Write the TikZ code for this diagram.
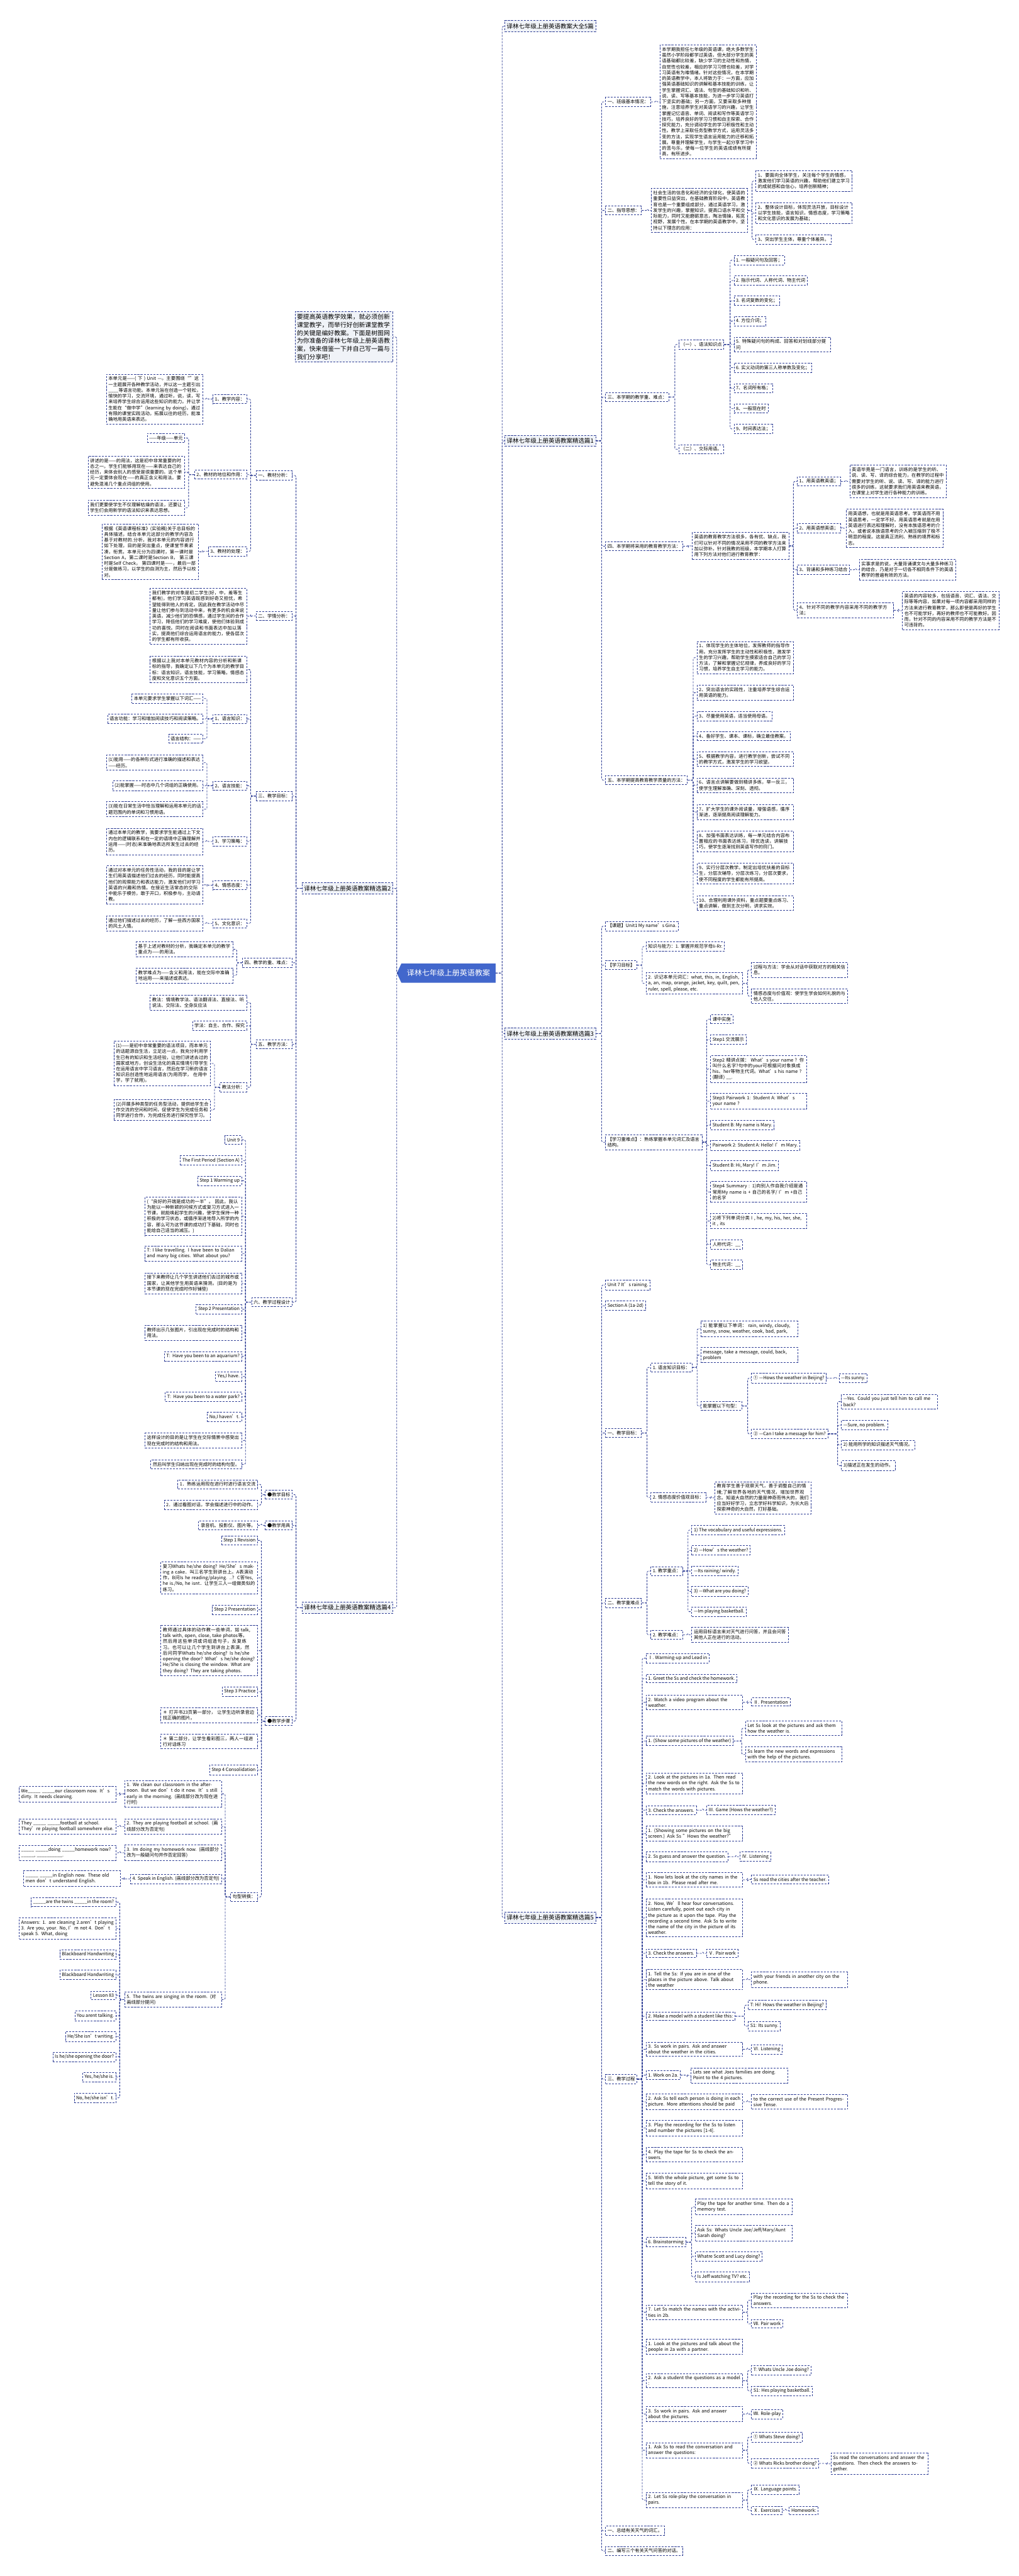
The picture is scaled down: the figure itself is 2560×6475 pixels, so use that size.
\documentclass[tikz,border=0pt]{standalone}
\usepackage{fontspec}
\setmainfont{Noto Sans CJK SC}
\usetikzlibrary{shapes.symbols}
\XeTeXlinebreaklocale "zh"
\XeTeXlinebreakskip = 0pt plus 1pt
\definecolor{lc}{RGB}{48,63,150}
\definecolor{rootc}{RGB}{66,103,204}
\definecolor{lf}{RGB}{240,243,248}
\newcommand\fs{\fontsize{11.5}{14.6}\selectfont}
\newcommand\blnk{\_\_\_\_\_}
\tikzset{
 bx/.style={draw=lc, dash pattern=on 5pt off 3pt, line width=1.3pt, fill=white, inner xsep=5pt, inner ysep=6pt, font=\fs, align=left},
 lv/.style={bx, fill=lf, font=\fontsize{15}{18}\selectfont, inner ysep=7pt},
 intro/.style={bx, fill=lf, font=\fontsize{15.5}{20}\selectfont},
 con/.style={draw=lc, dash pattern=on 5pt off 3pt, line width=1.3pt, rounded corners=3pt},
 rootnode/.style={shape=signal, signal to=west, signal from=nowhere, signal pointer angle=130, fill=rootc, text=white, font=\fontsize{19}{22}\selectfont, minimum height=48pt, inner xsep=10pt},
}
\newcommand\NW[4]{\node[bx,anchor=west] (#1) at (#2,#3) {#4};}
\newcommand\NWt[5]{\node[bx,anchor=west,text width=#4pt] (#1) at (#2,#3) {#5};}
\newcommand\NE[4]{\node[bx,anchor=east] (#1) at (#2,#3) {#4};}
\newcommand\NEt[5]{\node[bx,anchor=east,text width=#4pt] (#1) at (#2,#3) {#5};}
\newcommand\CR[2]{\foreach \kid in {#2}{\draw[con] (#1.east) -| ([xshift=-9pt]\kid.west) -- (\kid.west);}}
\newcommand\CL[2]{\foreach \kid in {#2}{\draw[con] (#1.west) -| ([xshift=9pt]\kid.east) -- (\kid.east);}}
\begin{document}
\begin{tikzpicture}[x=1pt,y=-1pt]
\useasboundingbox (0,0) rectangle (2560,6475);
\fill[white] (0,0) rectangle (2560,6475);

% ---------- root ----------
\node[rootnode, minimum width=248pt] (root) at (1127,2446) {译林七年级上册英语教案};

% ---------- first level ----------
\node[lv,anchor=west] (b0) at (1268,66) {译林七年级上册英语教案大全5篇};
\node[lv,anchor=west] (b1) at (1268,1108) {译林七年级上册英语教案精选篇1};
\node[lv,anchor=west] (b3) at (1268,2598) {译林七年级上册英语教案精选篇3};
\node[lv,anchor=west] (b5) at (1268,4820) {译林七年级上册英语教案精选篇5};
\node[intro,anchor=east,text width=236pt] (intro) at (988,847) {要提高英语教学效果，就必须创新课堂教学，而举行好创新课堂教学的关键是编好教案。下面是树图网为你准备的译林七年级上册英语教案，快来借鉴一下并自己写一篇与我们分享吧！};
\node[lv,anchor=east] (b2) at (988,2233) {译林七年级上册英语教案精选篇2};
\node[lv,anchor=east] (b4) at (988,4041) {译林七年级上册英语教案精选篇4};
\foreach \kid in {b0,b1,b3,b5}{\draw[con] (root.east) -| ([xshift=-6pt]\kid.west) -- (\kid.west);}
\foreach \kid in {intro,b2,b4}{\draw[con] (root.west) -| ([xshift=9pt]\kid.east) -- (\kid.east);}

% ---------- 篇1 ----------
\NW{a1}{1521}{256}{一、班级基本情况：}
\NWt{a1p}{1658}{256}{232}{本学期我担任七年级的英语课，绝大多数学生虽然小学阶段都学过英语，但大部分学生的英语基础都比较差，缺少学习的主动性和热情，自觉性也较差，相应的学习习惯也较差，对学习英语有为难情绪。针对这些情况，在本学期的英语教学中，本人将致力于：一方面，应加强英语基础知识的讲解和基本技能的训练，让学生掌握词汇、语法、句型的基础知识和听、说、读、写等基本技能，为进一步学习英语打下坚实的基础；另一方面，又要采取多种措施，注意培养学生对英语学习的兴趣，让学生掌握记忆语音、单词、阅读和写作等英语学习技巧，培养良好的学习习惯和自主探索、合作探究能力，充分调动学生的学习积极性和主动性。教学上采取任务型教学方式，运用灵活多变的方法，实现学生语言运用能力的迁移和拓展。尊重并理解学生，与学生一起分享学习中的苦与乐，使每一位学生的英语成绩有所提高，有所进步。}
\CR{a1}{a1p}
\NW{a2}{1521}{529}{二、指导思想：}
\NWt{a2p}{1636}{529}{232}{社会生活的信息化和经济的全球化，使英语的重要性日益突出，在基础教育阶段中，英语教育也是一个重要组成部分，通过英语学习，激发学生的兴趣，掌握知识，提高口语水平和交际能力，同时又能磨砺意志，陶冶情操，拓宽视野，发展个性。在本学期的英语教学中，坚持以下理念的应用：}
\CR{a2}{a2p}
\NWt{a2a}{1899}{455}{232}{1、要面向全体学生，关注每个学生的情感，激发他们学习英语的兴趣，帮助他们建立学习的成就感和自信心，培养创新精神；}
\NWt{a2b}{1899}{536}{232}{2、整体设计目标，体现灵活开放，目标设计以学生技能，语言知识，情感态度，学习策略和文化意识的发展为基础；}
\NW{a2c}{1899}{602}{3、突出学生主体，尊重个体差异。}
\CR{a2p}{a2a,a2b,a2c}
\NW{a3}{1521}{998}{三、本学期的教学重、难点：}
\NW{a3a}{1705}{866}{（一）、语法知识点}
\NW{a3b}{1705}{1129}{（二）、交际用语。}
\CR{a3}{a3a,a3b}
\NW{g1}{1844}{654}{1. 一般疑问句及回答；}
\NW{g2}{1844}{705}{2. 指示代词、人称代词、物主代词}
\NW{g3}{1844}{756}{3. 名词复数的变化；}
\NW{g4}{1844}{807}{4. 方位介词；}
\NWt{g5}{1844}{866}{232}{5. 特殊疑问句的构成、回答和对划线部分提问}
\NW{g6}{1844}{924}{6. 实义动词的第三人称单数及变化；}
\NW{g7}{1844}{976}{7、名词所有格；}
\NW{g8}{1844}{1027}{8、一般现在时}
\NW{g9}{1844}{1078}{9、时间表达法；}
\CR{a3a}{g1,g2,g3,g4,g5,g6,g7,g8,g9}
\NW{a4}{1521}{1373}{四、本学期将采用的教育教学方法：}
\NWt{a4p}{1739}{1372}{233}{英语的教育教学方法很多，各有优、缺点，我们可以针对不同的情况采用不同的教学方法来加以弥补。针对我教的班级，本学期本人打算用下列方法对他们进行教育教学：}
\CR{a4}{a4p}
\NW{m1}{2003}{1210}{1、用英语教英语；}
\NWt{m1p}{2135}{1210}{233}{英语毕竟是一门语言，训练的是学生的听、说、读、写、译的综合能力，在教学的过程中需要对学生的听、说、读、写、译的能力进行很多的训练，这就要求我们用英语来教英语，在课堂上对学生进行各种能力的训练。}
\NW{m2}{2003}{1328}{2、用英语想英语；}
\NWt{m2p}{2126}{1328}{233}{用英语想，也就是用英语思考。学英语而不用英语思考，一定学不好。用英语思考就是在用英语进行表达和理解时，没有本族语思考的介入，或者说本族语思考的介入被压缩到了极不明显的程度。这是真正流利、熟练的境界和标志。}
\NW{m3}{2003}{1432}{3、背诵和多种练习结合}
\NWt{m3p}{2159}{1432}{233}{实事求是的说，大量背诵课文与大量多种练习的结合，乃是对于一切各不相同条件下的英语教学的普遍有效的方法。}
\NWt{m4}{2003}{1534}{232}{4、针对不同的教学内容采用不同的教学方法；}
\NWt{m4p}{2267}{1535}{233}{英语的内容较多，包括语音、词汇、语法、交际等等内容，如果对每一项内容都采用同样的方法来进行教育教学，那么即使是再好的学生也不可能学好，再好的教师也不可能教好。因而，针对不同的内容采用不同的教学方法是不可违背的。}
\CR{a4p}{m1,m2,m3,m4}
\CR{m1}{m1p}\CR{m2}{m2p}\CR{m3}{m3p}\CR{m4}{m4p}
\NW{a5}{1521}{1961}{五、本学期提高教育教学质量的方法：}
\NWt{q1}{1751}{1653}{232}{1、体现学生的主体地位，发挥教师的指导作用。充分发挥学生的主动性和积极性，激发学生的学习兴趣，帮助学生摸索适合自己的学习方法，了解和掌握记忆规律，养成良好的学习习惯，培养学生自主学习的能力。}
\NWt{q2}{1751}{1741}{232}{2、突出语言的实践性，注重培养学生综合运用英语的能力。}
\NW{q3}{1751}{1800}{3、尽量使用英语，适当使用母语。}
\NW{q4}{1751}{1850}{4、备好学生、课本、课标，确立最佳教案。}
\NWt{q5}{1751}{1908}{232}{5、根据教学内容，进行教学创新，尝试不同的教学方式，激发学生的学习欲望。}
\NWt{q6}{1751}{1974}{232}{6、语言点讲解要做到精讲多练，举一反三，使学生理解准确、深刻、透彻。}
\NWt{q7}{1751}{2041}{232}{7、扩大学生的课外阅读量，增强语感，循序渐进，逐渐提高阅读理解能力。}
\NWt{q8}{1751}{2115}{232}{8、加强书面表达训练，每一单元结合内容布置相应的书面表达练习，择优选读，讲解技巧，使学生逐渐找到英语写作的窍门。}
\NWt{q9}{1751}{2196}{232}{9、实行分层次教学。制定出培优扶差的目标生，分层次辅导，分层次练习，分层次要求，使不同程度的学生都能有所提高。}
\NWt{q10}{1751}{2270}{232}{10、合理利用课外资料，重点题要重点练习、重点讲解，做到主次分明，讲求实效。}
\CR{a5}{q1,q2,q3,q4,q5,q6,q7,q8,q9,q10}
\CR{b1}{a1,a2,a3,a4,a5}

% ---------- 篇3 ----------
\NW{c1}{1521}{2328}{【课题】Unit1 My name’s Gina.}
\NW{c2}{1521}{2426}{【学习目标】}
\NW{c2a}{1623}{2379}{知识与能力：1. 掌握并规范字母Ii-Rr.}
\NWt{c2b}{1623}{2472}{233}{2. 识记本单元词汇：what, this, in, English, a, an, map, orange, jacket, key, quilt, pen, ruler, spell, please, etc.}
\NWt{c2b1}{1888}{2438}{232}{过程与方法：学会从对话中获取对方的相关信息。}
\NWt{c2b2}{1888}{2504}{232}{情感态度与价值观：使学生学会如何礼貌的与他人交往。}
\NWt{c3}{1521}{2871}{233}{【学习重难点】：熟练掌握本单元词汇及语言结构。}
\NW{s1}{1785}{2562}{课中实施}
\NW{s2}{1785}{2613}{Step1 交流展示}
\NWt{s3}{1785}{2687}{232}{Step2 精讲点拨： What’s your name ? 你叫什么名字?句中的your可根据问对象换成his、her等物主代词。What’s his name ? (翻译) \_\_.}
\NWt{s4}{1785}{2768}{232}{Step3 Pairwork 1: Student A: What’s your name ?}
\NW{s5}{1785}{2828}{Student B: My name is Mary.}
\NW{s6}{1785}{2879}{Pairwork 2: Student A: Hello! I’m Mary.}
\NW{s7}{1785}{2930}{Student B: Hi, Mary! I’m Jim.}
\NWt{s8}{1785}{2996}{232}{Step4 Summary : 1)向别人作自我介绍是通常用My name is + 自己的名字/ I’m +自己的名字}
\NWt{s9}{1785}{3069}{232}{2)将下列单词分类 I , he, my, his, her, she, it , its}
\NW{s10}{1785}{3128}{人称代词：\_\_}
\NW{s11}{1785}{3179}{物主代词：\_\_}
\CR{b3}{c1,c2,c3}
\CR{c2}{c2a,c2b}
\CR{c2b}{c2b1,c2b2}
\CR{c3}{s1,s2,s3,s4,s5,s6,s7,s8,s9,s10,s11}

% ---------- 篇5 ----------
\NW{d1}{1521}{3230}{Unit 7 It’s raining.}
\NW{d2}{1521}{3282}{Section A (1a-2d)}
\NW{d3}{1521}{3602}{一、教学目标：}
\NW{d3a}{1635}{3437}{1. 语言知识目标：}
\NWt{d3a1}{1761}{3340}{233}{1) 能掌握以下单词： rain, windy, cloudy, sunny, snow, weather, cook, bad, park,}
\NWt{d3a2}{1761}{3406}{233}{message, take a message, could, back, problem}
\NW{d3a3}{1761}{3534}{能掌握以下句型：}
\NW{e1}{1888}{3464}{① —Hows the weather in Beijing?}
\NW{e1a}{2108}{3464}{—Its sunny.}
\NW{e2}{1888}{3604}{② —Can I take a message for him?}
\NWt{e2a}{2114}{3523}{232}{—Yes. Could you just tell him to call me back?}
\NW{e2b}{2114}{3582}{—Sure, no problem.}
\NW{e2c}{2114}{3632}{2) 能用所学的知识描述天气情况。}
\NW{e2d}{2114}{3684}{3)描述正在发生的动作。}
\NW{d3b}{1635}{3764}{2. 情感态度价值观目标：}
\NWt{d3bp}{1796}{3765}{232}{教育学生善于观察天气，善于调整自己的情绪;了解世界各地的天气情况，增加世界观念。知道大自然的力量是神奇而伟大的，我们应当好好学习，立志学好科学知识，为长大后探索神奇的大自然，打好基础。}
\CR{d3}{d3a,d3b}
\CR{d3a}{d3a1,d3a2,d3a3}
\CR{d3a3}{e1,e2}
\CR{e1}{e1a}
\CR{e2}{e2a,e2b,e2c,e2d}
\CR{d3b}{d3bp}
\NW{d4}{1521}{4029}{二、教学重难点}
\NW{d4a}{1635}{3949}{1. 教学重点：}
\NW{r1}{1738}{3846}{1) The vocabulary and useful expressions.}
\NW{r2}{1738}{3897}{2) —How’s the weather?}
\NW{r3}{1738}{3949}{—Its raining/ windy.}
\NW{r4}{1738}{4000}{3) —What are you doing?}
\NW{r5}{1738}{4051}{—Im playing basketball.}
\NW{d4b}{1635}{4109}{2. 教学难点：}
\NWt{d4bp}{1738}{4109}{233}{运用目标语言来对天气进行问答，并且会问答其他人正在进行的活动。}
\CR{d4}{d4a,d4b}
\CR{d4a}{r1,r2,r3,r4,r5}
\CR{d4b}{d4bp}
\NW{d5}{1521}{5226}{三、教学过程}
\NW{p1}{1623}{4168}{Ⅰ. Warming-up and Lead in}
\NW{p2}{1623}{4219}{1. Greet the Ss and check the homework.}
\NWt{p3}{1623}{4279}{233}{2. Watch a video program about the weather.}
\NW{p3a}{1888}{4278}{Ⅱ. Presentation}
\NW{p4}{1623}{4376}{1. (Show some pictures of the weather)}
\NWt{p4a}{1873}{4344}{232}{Let Ss look at the pictures and ask them how the weather is.}
\NWt{p4b}{1873}{4410}{232}{Ss learn the new words and expressions with the help of the pictures.}
\NWt{p5}{1623}{4483}{233}{2. Look at the pictures in 1a. Then read the new words on the right. Ask the Ss to match the words with pictures.}
\NW{p6}{1623}{4550}{3. Check the answers.}
\NW{p6a}{1775}{4550}{Ⅲ. Game (Hows the weather?)}
\NWt{p7}{1623}{4609}{233}{1. (Showing some pictures on the big screen.) Ask Ss "Hows the weather?"}
\NW{p8}{1623}{4667}{2. Ss guess and answer the question.}
\NW{p8a}{1859}{4667}{Ⅳ. Listening}
\NWt{p9}{1623}{4725}{233}{1. Now lets look at the city names in the box in 1b. Please read after me.}
\NW{p9a}{1888}{4724}{Ss read the cities after the teacher.}
\NWt{p10}{1623}{4821}{233}{2. Now, We’ll hear four conversations. Listen carefully, point out each city in the picture as it upon the tape. Play the recording a second time. Ask Ss to write the name of the city in the picture of its weather.}
\NW{p11}{1623}{4910}{3. Check the answers.}
\NW{p11a}{1775}{4910}{Ⅴ. Pair work}
\NWt{p12}{1623}{4976}{233}{1. Tell the Ss: If you are in one of the places in the picture above. Talk about the weather}
\NWt{p12a}{1888}{4976}{232}{with your friends in another city on the phone.}
\NW{p13}{1623}{5068}{2. Make a model with a student like this:}
\NW{p13a}{1880}{5040}{T: Hi! Hows the weather in Beijing?}
\NW{p13b}{1880}{5093}{S1: Its sunny.}
\NWt{p14}{1623}{5151}{233}{3. Ss work in pairs. Ask and answer about the weather in the cities.}
\NW{p14a}{1888}{5151}{Ⅵ. Listening}
\NW{p15}{1623}{5216}{1. Work on 2a.}
\NWt{p15a}{1736}{5217}{233}{Lets see what Joes families are doing. Point to the 4 pictures.}
\NWt{p16}{1623}{5283}{233}{2. Ask Ss tell each person is doing in each picture. More attentions should be paid}
\NWt{p16a}{1888}{5283}{232}{to the correct use of the Present Progressive Tense.}
\NWt{p17}{1623}{5349}{233}{3. Play the recording for the Ss to listen and number the pictures [1-4].}
\NWt{p18}{1623}{5416}{233}{4. Play the tape for Ss to check the answers.}
\NWt{p19}{1623}{5482}{233}{5. With the whole picture, get some Ss to tell the story of it.}
\NW{p20}{1623}{5636}{6. Brainstorming}
\NWt{p20a}{1747}{5547}{233}{Play the tape for another time. Then do a memory test.}
\NWt{p20b}{1747}{5613}{233}{Ask Ss: Whats Uncle Joe/Jeff/Mary/Aunt Sarah doing?}
\NW{p20c}{1747}{5672}{Whatre Scott and Lucy doing?}
\NW{p20d}{1747}{5723}{Is Jeff watching TV? etc.}
\NWt{p21}{1623}{5812}{233}{7. Let Ss match the names with the activities in 2b.}
\NWt{p21a}{1888}{5782}{232}{Play the recording for the Ss to check the answers.}
\NW{p21b}{1888}{5841}{Ⅶ. Pair work}
\NWt{p22}{1623}{5899}{233}{1. Look at the pictures and talk about the people in 2a with a partner.}
\NWt{p23}{1623}{5984}{233}{2. Ask a student the questions as a model :}
\NW{p23a}{1888}{5958}{T: Whats Uncle Joe doing?}
\NW{p23b}{1888}{6010}{S1: Hes playing basketball.}
\NWt{p24}{1623}{6068}{233}{3. Ss work in pairs. Ask and answer about the pictures.}
\NW{p24a}{1888}{6068}{Ⅷ. Role-play}
\NWt{p25}{1623}{6159}{233}{1. Ask Ss to read the conversation and answer the questions:}
\NW{p25a}{1888}{6126}{① Whats Steve doing?}
\NW{p25b}{1888}{6192}{② Whats Ricks brother doing?}
\NWt{p25c}{2088}{6193}{233}{Ss read the conversations and answer the questions. Then check the answers together.}
\NWt{p26}{1623}{6284}{233}{2. Let Ss role-play the conversation in pairs.}
\NW{p26a}{1888}{6258}{Ⅸ. Language points.}
\NW{p26b}{1888}{6310}{Ⅹ. Exercises}
\NW{p26c}{1983}{6310}{Homework:}
\NW{d6}{1521}{6361}{一、总结有关天气的词汇。}
\NW{d7}{1521}{6412}{二、编写三个有关天气问答的对话。}
\CR{b5}{d1,d2,d3,d4,d5,d6,d7}
\CR{d5}{p1,p2,p3,p4,p5,p6,p7,p8,p9,p10,p11,p12,p13,p14,p15,p16,p17,p18,p19,p20,p21,p22,p23,p24,p25,p26}
\CR{p3}{p3a}\CR{p4}{p4a,p4b}\CR{p6}{p6a}\CR{p8}{p8a}\CR{p9}{p9a}\CR{p11}{p11a}
\CR{p12}{p12a}\CR{p13}{p13a,p13b}\CR{p14}{p14a}\CR{p15}{p15a}\CR{p16}{p16a}
\CR{p20}{p20a,p20b,p20c,p20d}\CR{p21}{p21a,p21b}\CR{p23}{p23a,p23b}\CR{p24}{p24a}
\CR{p25}{p25a,p25b}\CR{p25b}{p25c}\CR{p26}{p26a,p26b}\CR{p26b}{p26c}

% ---------- 篇2 ----------
\NE{k1}{735}{1195}{一、教材分析：}
\NE{k1a}{621}{1003}{1、教学内容：}
\NEt{k1ap}{511}{1003}{233}{本单元是——( 下 ) Unit —。主要围绕“”这一主题展开各种教学活动，并以这一主题引出\_\_\_\_等语言功能。本单元旨在创造一个轻松，愉快的学习，交流环境，通过听，说，读，写来培养学生综合运用这些知识的能力。并让学生能在“做中学”(learning by doing)，通过有限的课堂实践活动，拓展以往的经历，能准确地用英语来表达。}
\NE{k1b}{621}{1193}{2、教材的地位和作用：}
\NE{k1b1}{465}{1101}{——年级——单元}
\NEt{k1b2}{465}{1187}{233}{讲述的是——的用法，这是初中非常重要的时态之一。学生们能够用现在——来表达自己的经历，来体会别人的感受是很重要的。这个单元一定要体会现在——的真正含义和用法。要避免混淆几个重点词组的使用。}
\NEt{k1b3}{465}{1276}{233}{我们更要使学生不仅理解枯燥的语法，还要让学生们会用新学的语法知识来表达思想。}
\NE{k1c}{621}{1386}{3、教材的处理：}
\NEt{k1cp}{500}{1387}{233}{根据《英语课程标准》(实验稿)关于总目标的具体描述，结合本单元这部分的教学内容及基于对教材的.分析，我对本单元的内容进行如下处理，目的是突出重点，使课堂节奏紧凑，衔贯。本单元分为四课时，第一课时是Section A，第二课时是Section B， 第三课时是Self Check， 第四课时是——，最后一部分是做练习，以学生的自测为主，然后予以校对。}
\NE{k2}{735}{1548}{二、学情分析：}
\NEt{k2p}{621}{1549}{233}{我们教学的对象是初二学生(好，中，差等生都有)，他们学习英语既感到好奇又担忧，希望能得到他人的肯定。因此我在教学活动中尽量让他们参与到活动中来，有更多的机会来说英语，减少他们的恐惧感，通过学生间的合作学习，降低他们的学习难度，使他们体验到成功的喜悦。同时在阅读和书面表达中加以落实，提高他们综合运用语言的能力，使各层次的学生都有所收获。}
\NE{k3}{735}{2001}{三、教学目标：}
\NEt{k3p}{621}{1683}{233}{根据以上我对本单元教材内容的分析和新课标的指导，我确定以下几个为本单元的教学目标：语言知识，语言技能，学习策略，情感态度和文化意识五个方面。}
\NE{k3a}{621}{1807}{1、语言知识：}
\NE{k3a1}{511}{1756}{本单元要求学生掌握以下词汇——}
\NE{k3a2}{511}{1807}{语言功能：学习和增加阅读技巧和阅读策略。}
\NE{k3a3}{511}{1857}{语言结构：——}
\NE{k3b}{621}{1975}{2、语言技能：}
\NEt{k3b1}{511}{1917}{233}{(1)能用——的各种形式进行准确的描述和表达——经历。}
\NE{k3b2}{511}{1975}{(2)能掌握——时态中几个词组的正确使用。}
\NEt{k3b3}{511}{2034}{233}{(3)能在日常生活中恰当理解和运用本单元的话题范围内的单词和习惯用语。}
\NE{k3c}{621}{2115}{3、学习策略：}
\NEt{k3cp}{511}{2115}{233}{通过本单元的教学，我要求学生能通过上下文内在的逻辑联系和在一定的语境中正确理解并运用——(时态)来准确地表达所发生过去的经历。}
\NE{k3d}{621}{2225}{4、情感态度：}
\NEt{k3dp}{511}{2224}{233}{通过对本单元的任务性活动，我的目的是让学生们用英语描述他们过去的经历，同时能提高他们的观察能力和表达能力，激发他们对学习英语的兴趣和热情。在接近生活常态的交际中能乐于模仿，敢于开口，积极参与，主动请教。}
\NE{k3e}{621}{2321}{5、文化意识：}
\NEt{k3ep}{511}{2321}{233}{通过他们描述过去的经历，了解一些西方国家的风土人情。}
\NE{k4}{735}{2420}{四、教学的重、难点：}
\NEt{k4a}{586}{2386}{233}{基于上述对教材的分析，我确定本单元的教学重点为——的用法。}
\NEt{k4b}{586}{2452}{233}{教学难点为——含义和用法，能在交际中准确地运用——来描述或表达。}
\NE{k5}{735}{2625}{五、教学方法：}
\NEt{k5a}{621}{2520}{233}{教法：情境教学法、语法翻译法、直接法、听说法、交际法、全身反应法}
\NE{k5b}{621}{2578}{学法：自主、合作、探究}
\NE{k5c}{621}{2733}{教法分析：}
\NEt{k5c1}{530}{2673}{233}{(1)——是初中非常重要的语法项目，而本单元的话题源自生活，立足这一点，我充分利用学生已有的知识和生活经验，让他们讲述去过的国家或地方，创设生活化的真实情境引导学生在运用语言中学习语言，然后在学习新的语言知识后创造性地运用语言(为用而学， 在用中学，学了就用)。}
\NEt{k5c2}{530}{2790}{233}{(2)开展多种类型的任务型活动，提供给学生合作交流的空间和时间，促使学生为完成任务和同学进行合作，为完成任务进行探究性学习。}
\NE{k6}{735}{3273}{六、教学过程设计}
\NE{t1}{608}{2865}{Unit 9}
\NE{t2}{608}{2917}{The First Period (Section A)}
\NE{t3}{608}{2968}{Step 1 Warming up}
\NEt{t4}{608}{3057}{233}{(“良好的开端是成功的一半”。 因此，我认为能以一种新颖的问候方式或复习方式进入一节课，就能唤起学生的兴趣，使学生保持一种积极的学习状态，或循序渐进地导入所学的内容，那么可为这节课的成功打下基础，同时也能给自己适当的减压。)}
\NEt{t5}{608}{3151}{233}{T: I like travelling. I have been to Dalian and many big cities. What about you?}
\NEt{t6}{608}{3226}{233}{接下来教师让几个学生讲述他们去过的城市或国家，让其他学生用英语来猜测。(目的是为本节课的现在完成时作好铺垫)}
\NE{t7}{608}{3291}{Step 2 Presentation}
\NEt{t8}{608}{3350}{233}{教师出示几张图片，引出现在完成时的结构和用法。}
\NE{t9}{608}{3409}{T:\ \ Have you been to an aquarium?}
\NE{t10}{608}{3460}{Yes,I have.}
\NE{t11}{608}{3511}{T:\ \ Have you been to a water park?}
\NE{t12}{608}{3562}{No,I haven't.}
\NEt{t13}{608}{3621}{233}{这样设计的目的是让学生在交际情景中感受出现在完成时的结构和用法。}
\NE{t14}{608}{3681}{然后叫学生归纳出现在完成时的结构句型。}
\CL{b2}{k1,k2,k3,k4,k5,k6}
\CL{k1}{k1a,k1b,k1c}\CL{k1a}{k1ap}\CL{k1b}{k1b1,k1b2,k1b3}\CL{k1c}{k1cp}
\CL{k2}{k2p}
\CL{k3}{k3p,k3a,k3b,k3c,k3d,k3e}
\CL{k3a}{k3a1,k3a2,k3a3}\CL{k3b}{k3b1,k3b2,k3b3}\CL{k3c}{k3cp}\CL{k3d}{k3dp}\CL{k3e}{k3ep}
\CL{k4}{k4a,k4b}
\CL{k5}{k5a,k5b,k5c}\CL{k5c}{k5c1,k5c2}
\CL{k6}{t1,t2,t3,t4,t5,t6,t7,t8,t9,t10,t11,t12,t13,t14}

% ---------- 篇4 ----------
\NE{w1}{735}{3757}{●教学目标}
\NE{w1a}{648}{3731}{1．熟练运用现在进行时进行语言交流}
\NE{w1b}{648}{3783}{2．通过看图对话，学会描述进行中的动作。}
\NE{w2}{735}{3834}{●教学用具}
\NE{w2a}{648}{3834}{录音机、投影仪、图片等。}
\NE{w3}{735}{4326}{●教学步骤}
\NE{v1}{648}{3872}{Step 1 Revision}
\NEt{v2}{648}{3966}{233}{复习Whats he/she doing? He/She’s making a cake．叫三名学生到讲台上。A表演动作，B问Is he reading/playing. ..?\ \ C答Yes, he is./No, he isnt．让学生三人一组做类似的练习。}
\NE{v3}{648}{4046}{Step 2 Presentation}
\NEt{v4}{648}{4149}{233}{教师通过具体的动作教一些单词，如 talk, talk with, open, close, take photos等。然后用这些单词或词组造句子，反复练习。也可以让几个学生到讲台上表演，然后问同学Whats he/she doing? Is he/she opening the door? What’s he/she doing? He/She is closing the window. What are they doing? They are taking photos.}
\NE{v5}{648}{4252}{Step 3 Practice}
\NEt{v6}{648}{4311}{233}{＊ 打开书23页第一部分， 让学生边听录音边找正确的图片。}
\NEt{v7}{648}{4377}{233}{＊ 第二部分，让学生看彩图三，两人一组进行对话练习}
\NE{v8}{648}{4449}{Step 4 Consolidation}
\NE{v9}{648}{4768}{句型转换：}
\NEt{x1}{557}{4509}{233}{1. We clean our classroom in the afternoon. But we don’t do it now. It’s still early in the morning. (画线部分改为现在进行时)}
\NEt{x1a}{292}{4510}{233}{We\blnk{} \blnk{}our classroom now. It’s dirty. It needs cleaning.}
\NEt{x2}{557}{4591}{233}{2. They are playing football at school. (画线部分改为否定句)}
\NEt{x2a}{292}{4591}{233}{They \blnk{} \blnk{}football at school. They’re playing football somewhere else.}
\NEt{x3}{557}{4657}{233}{3. Im doing my homework now. (画线部分改为一般疑问句并作否定回答)}
\NEt{x3a}{292}{4657}{233}{\blnk{} \blnk{}doing \blnk{}homework now? \blnk{}, \blnk{}\blnk{}.}
\NE{x4}{557}{4723}{4. Speak in English. (画线部分改为否定句)}
\NEt{x4a}{303}{4722}{233}{\blnk{} \blnk{}in English now. These old men don’t understand English.}
\NEt{x5}{557}{5026}{233}{5. The twins are singing in the room. (对画线部分提问)}
\NE{y1}{292}{4781}{\blnk{}are the twins \blnk{}in the room?}
\NEt{y2}{292}{4847}{233}{Answers: 1. are cleaning 2.aren’t playing 3. Are you, your. No, I’m not 4. Don’t speak 5. What, doing}
\NE{y3}{292}{4913}{Blackboard Handwriting}
\NE{y4}{292}{4964}{Blackboard Handwriting}
\NE{y5}{292}{5015}{Lesson 83}
\NE{y6}{292}{5067}{You arent talking.}
\NE{y7}{292}{5119}{He/She isn’t writing.}
\NE{y8}{292}{5170}{Is he/she opening the door?}
\NE{y9}{292}{5221}{Yes, he/she is.}
\NE{y10}{292}{5273}{No, he/she isn’t.}
\CL{b4}{w1,w2,w3}
\CL{w1}{w1a,w1b}\CL{w2}{w2a}
\CL{w3}{v1,v2,v3,v4,v5,v6,v7,v8,v9}
\CL{v9}{x1,x2,x3,x4,x5}
\CL{x1}{x1a}\CL{x2}{x2a}\CL{x3}{x3a}\CL{x4}{x4a}
\CL{x5}{y1,y2,y3,y4,y5,y6,y7,y8,y9,y10}
\end{tikzpicture}
\end{document}
